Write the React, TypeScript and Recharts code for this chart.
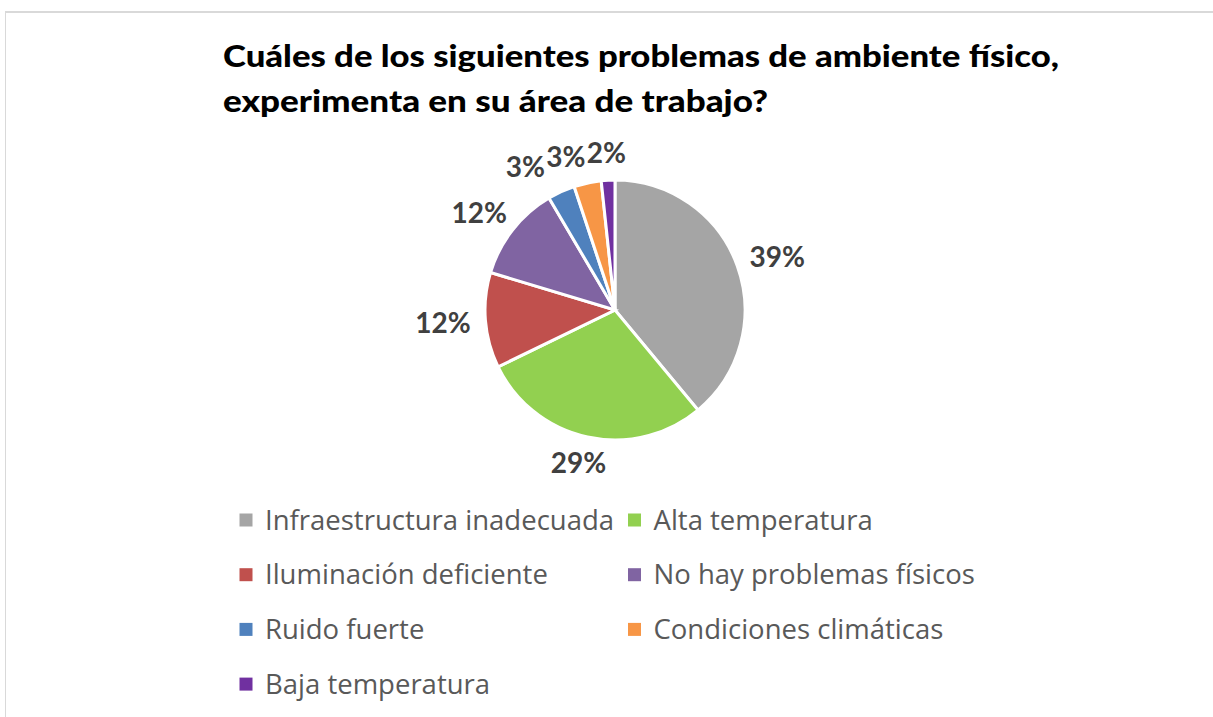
import React from 'react';
import { PieChart, Pie, Cell, Legend } from 'recharts';

const categories = [
  'Infraestructura inadecuada',
  'Alta temperatura',
  'Iluminación deficiente',
  'No hay problemas físicos',
  'Ruido fuerte',
  'Condiciones climáticas',
  'Baja temperatura',
];
const responses = [23, 17, 7, 7, 2, 2, 1];
const colors = ['#A5A5A5', '#92D050', '#C0504D', '#8064A2', '#4F81BD', '#F79646', '#7030A0'];
const titleLines = [
  'Cuáles de los siguientes problemas de ambiente físico,',
  'experimenta en su área de trabajo?',
];

const data = categories.map((name, i) => ({ name, value: responses[i] }));

const W = 1213;
const H = 717;
const CX = 615;
const CY = 310;
const R = 130;
const LABEL_FONT = 28;
const LABEL_H = 26;

const RAD = Math.PI / 180;
const total = responses.reduce((a, b) => a + b, 0);

function computeLabels() {
  let start = 90;
  const items = responses.map((v) => {
    const sweep = (v / total) * 360;
    const mid = start - sweep / 2;
    start -= sweep;
    const text = `${Math.round((v / total) * 100)}%`;
    const w = (text.length - 1) * 16.5 + 24;
    const c = Math.cos(mid * RAD);
    const s = Math.sin(mid * RAD);
    const r = R + 14;
    const x = CX + r * c + (w / 2) * c;
    const y = CY - r * s - (LABEL_H / 2) * s;
    return { x, y, w, text, c };
  });
  // resolve overlaps between neighbouring labels (counter-clockwise pass)
  for (let i = items.length - 2; i >= 0; i--) {
    const a = items[i];
    const b = items[i + 1];
    const overlapX = (a.w + b.w) / 2 - Math.abs(a.x - b.x);
    const overlapY = LABEL_H - Math.abs(a.y - b.y);
    if (overlapX > 0 && overlapY > 0 && a.c < 0) {
      a.x -= overlapX;
    }
  }
  return items;
}

const labelPositions = computeLabels();

const renderLabel = (props: any) => {
  const p = labelPositions[props.index];
  if (!p) return null;
  return (
    <text
      x={p.x}
      y={p.y + 10}
      textAnchor="middle"
      fill="#404040"
      fontFamily="Lato, 'Open Sans', sans-serif"
      fontWeight={700}
      fontSize={LABEL_FONT}
    >
      {p.text}
    </text>
  );
};

const renderLegend = () => (
  <svg width={800} height={215} style={{ display: 'block' }}>
    {categories.map((name, i) => {
      const col = i % 2;
      const row = Math.floor(i / 2);
      const sx = col === 0 ? 9.5 : 398;
      const cy = 25 + row * 54.7;
      return (
        <g key={name}>
          <rect x={sx} y={cy - 6.5} width={13} height={13} fill={colors[i]} />
          <text
            x={sx + 25.5}
            y={cy + 9.5}
            fill="#595959"
            fontFamily="'Open Sans', sans-serif"
            fontSize={27.5}
          >
            {name}
          </text>
        </g>
      );
    })}
  </svg>
);

export default function App() {
  return (
    <div
      style={{
        position: 'absolute',
        left: 0,
        top: 0,
        width: W,
        height: H,
        background: '#fff',
        overflow: 'hidden',
      }}
    >
      <div
        style={{
          position: 'absolute',
          left: 5,
          top: 11,
          width: W,
          height: H,
          borderTop: '2px solid #d9d9d9',
          borderLeft: '1px solid #d9d9d9',
          boxSizing: 'border-box',
        }}
      />
      <PieChart
        width={W}
        height={H}
        margin={{ top: 0, right: 0, bottom: 0, left: 0 }}
        style={{ position: 'absolute', left: 0, top: 0 }}
      >
        <Pie
          data={data}
          dataKey="value"
          nameKey="name"
          cx={CX}
          cy={CY}
          outerRadius={R}
          startAngle={90}
          endAngle={-270}
          stroke="#ffffff"
          strokeWidth={3}
          label={renderLabel}
          labelLine={false}
          isAnimationActive={false}
        >
          {data.map((d, i) => (
            <Cell key={d.name} fill={colors[i]} />
          ))}
        </Pie>
        <Legend
          content={renderLegend}
          wrapperStyle={{ position: 'absolute', left: 230, top: 495, width: 800, height: 215 }}
        />
      </PieChart>
      <svg
        width={W}
        height={130}
        style={{ position: 'absolute', left: 0, top: 0, pointerEvents: 'none' }}
      >
        <text
          x={223}
          y={67}
          fontFamily="Lato, sans-serif"
          fontWeight={900}
          fontSize={30.5}
          fill="#000"
          textLength={836}
          lengthAdjust="spacingAndGlyphs"
        >
          {titleLines[0]}
        </text>
        <text
          x={223}
          y={111.5}
          fontFamily="Lato, sans-serif"
          fontWeight={900}
          fontSize={30.5}
          fill="#000"
          textLength={545}
          lengthAdjust="spacingAndGlyphs"
        >
          {titleLines[1]}
        </text>
      </svg>
    </div>
  );
}
